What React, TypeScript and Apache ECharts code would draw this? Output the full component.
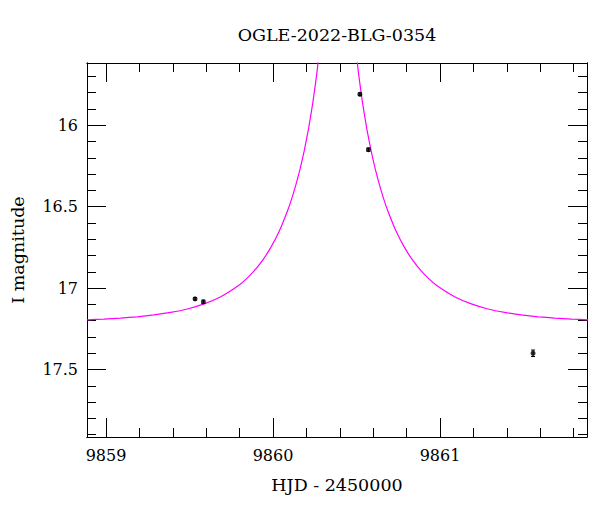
import React, { useEffect, useRef } from "react";
import * as echarts from "echarts";

const TITLE = "OGLE-2022-BLG-0354";
const X_NAME = "HJD - 2450000";
const Y_NAME = "I magnitude";

const X_MIN = 9858.886;
const X_MAX = 9861.88;
const Y_MIN = 15.618;
const Y_MAX = 17.914;

const xMajor = [9859, 9860, 9861];
const xMinor = [9859.2, 9859.4, 9859.6, 9859.8, 9860.2, 9860.4, 9860.6, 9860.8, 9861.2, 9861.4, 9861.6, 9861.8];
const yMajor = [16, 16.5, 17, 17.5];
const yMinor = [15.7, 15.8, 15.9, 16.1, 16.2, 16.3, 16.4, 16.6, 16.7, 16.8, 16.9, 17.1, 17.2, 17.3, 17.4, 17.6, 17.7, 17.8, 17.9];

// observed points
const obsT = [9859.533, 9859.583, 9860.52, 9860.571, 9861.557];
const obsMag = [17.066, 17.084, 15.81, 16.15, 17.4];
const obsErr = [0.008, 0.01, 0.008, 0.01, 0.02];

// model curve (peak is off the top of the plot)
const curveT = [
  9858.887, 9858.987, 9859.087, 9859.187, 9859.287, 9859.387, 9859.487, 9859.587, 9859.687, 9859.787,
  9859.837, 9859.887, 9859.937, 9859.987, 9860.037, 9860.087, 9860.112, 9860.137, 9860.162, 9860.187,
  9860.212, 9860.237, 9860.262, 9860.287, 9860.312, 9860.337, 9860.387, 9860.437, 9860.462, 9860.487,
  9860.512, 9860.537, 9860.562, 9860.587, 9860.612, 9860.637, 9860.662, 9860.687, 9860.737, 9860.787,
  9860.837, 9860.887, 9860.937, 9860.987, 9861.087, 9861.187, 9861.287, 9861.387, 9861.487, 9861.587,
  9861.687, 9861.787, 9861.887,
];
const curveMag = [
  17.195, 17.19, 17.184, 17.176, 17.164, 17.149, 17.128, 17.097, 17.053, 16.989,
  16.946, 16.894, 16.83, 16.75, 16.651, 16.525, 16.451, 16.365, 16.268, 16.156,
  16.025, 15.87, 15.683, 15.449, 15.144, 14.709, 14.2, 14.709, 15.144, 15.449,
  15.683, 15.87, 16.025, 16.156, 16.268, 16.365, 16.451, 16.525, 16.651, 16.75,
  16.83, 16.894, 16.946, 16.989, 17.053, 17.097, 17.128, 17.149, 17.164, 17.176,
  17.184, 17.19, 17.195,
];

const FONT = "DejaVu Serif";

export default function App() {
  const ref = useRef<HTMLDivElement>(null);
  useEffect(() => {
    if (!ref.current) return;
    const chart = echarts.init(ref.current, null, { renderer: "svg" });
    const line = { show: true, onZero: false, lineStyle: { color: "#000", width: 1 } };
    const mkX = (pos: string, vals: number[], len: number, labels: boolean, extra: any = {}) => ({
      type: "value",
      position: pos,
      min: X_MIN,
      max: X_MAX,
      axisLine: line,
      splitLine: { show: false },
      axisTick: { show: true, inside: true, length: len, customValues: vals, lineStyle: { color: "#000", width: 1 } },
      axisLabel: labels
        ? { show: true, customValues: xMajor, margin: 10, fontFamily: FONT, fontSize: 16, color: "#000", formatter: (v: number) => String(Math.round(v)) }
        : { show: false },
      ...extra,
    });
    const mkY = (pos: string, vals: number[], len: number, labels: boolean, extra: any = {}) => ({
      type: "value",
      position: pos,
      inverse: true,
      min: Y_MIN,
      max: Y_MAX,
      axisLine: line,
      splitLine: { show: false },
      axisTick: { show: true, inside: true, length: len, customValues: vals, lineStyle: { color: "#000", width: 1 } },
      axisLabel: labels
        ? { show: true, customValues: yMajor, margin: 9, fontFamily: FONT, fontSize: 16, color: "#000", formatter: (v: number) => String(Math.round(v * 10) / 10) }
        : { show: false },
      ...extra,
    });
    const errData = obsT.map((t, i) => [t, obsMag[i], obsErr[i]]);
    chart.setOption({
      animation: false,
      backgroundColor: "#fff",
      grid: { left: 87, top: 63, right: 13, bottom: 75, containLabel: false },
      graphic: [
        {
          type: "text",
          x: 337,
          y: 35,
          style: { text: TITLE, textAlign: "center", textVerticalAlign: "middle", fontFamily: FONT, fontSize: 17.5, fill: "#000" },
        },
      ],
      xAxis: [
        mkX("bottom", xMajor, 19, true, {
          name: X_NAME,
          nameLocation: "middle",
          nameGap: 39,
          nameTextStyle: { fontFamily: FONT, fontSize: 17.5, color: "#000" },
        }),
        mkX("bottom", xMinor, 9, false),
        mkX("top", xMajor, 19, false),
        mkX("top", xMinor, 9, false),
      ],
      yAxis: [
        mkY("left", yMajor, 19, true, {
          name: Y_NAME,
          nameLocation: "middle",
          nameRotate: 90,
          nameGap: 60,
          nameTextStyle: { fontFamily: FONT, fontSize: 17.5, color: "#000" },
        }),
        mkY("left", yMinor, 9, false),
        mkY("right", yMajor, 19, false),
        mkY("right", yMinor, 9, false),
      ],
      series: [
        {
          type: "line",
          data: curveT.map((t, i) => [t, curveMag[i]]),
          showSymbol: false,
          smooth: 0.15,
          clip: true,
          lineStyle: { color: "#ff00ff", width: 1.2 },
          z: 2,
        },
        {
          type: "custom",
          data: errData,
          clip: true,
          z: 3,
          renderItem: (params: any, api: any) => {
            const x = api.value(0);
            const y = api.value(1);
            const e = api.value(2);
            const top = api.coord([x, y - e]);
            const bot = api.coord([x, y + e]);
            const cap = 2;
            const st = { stroke: "#000", lineWidth: 1 };
            return {
              type: "group",
              children: [
                { type: "line", shape: { x1: top[0], y1: top[1], x2: bot[0], y2: bot[1] }, style: st },
                { type: "line", shape: { x1: top[0] - cap, y1: top[1], x2: top[0] + cap, y2: top[1] }, style: st },
                { type: "line", shape: { x1: bot[0] - cap, y1: bot[1], x2: bot[0] + cap, y2: bot[1] }, style: st },
              ],
            };
          },
        },
        {
          type: "scatter",
          data: obsT.map((t, i) => [t, obsMag[i]]),
          symbol: "circle",
          symbolSize: 5,
          itemStyle: { color: "#000" },
          z: 4,
        },
      ],
    });
    return () => chart.dispose();
  }, []);
  return <div ref={ref} style={{ position: "fixed", left: 0, top: 0, width: 600, height: 512 }} />;
}
